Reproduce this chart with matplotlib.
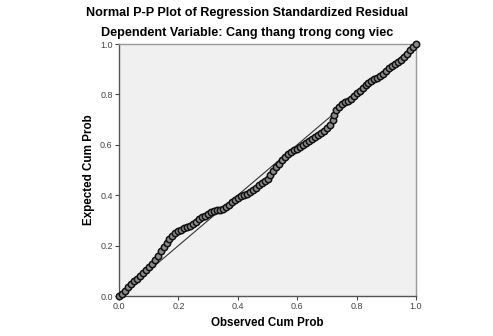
import numpy as np
import matplotlib
matplotlib.use("Agg")
import matplotlib.pyplot as plt

# ==========================================================
# Data (observed vs expected cum prob)
# ==========================================================
observed = [0.000, 0.010, 0.020, 0.030, 0.040, 0.050, 0.060, 0.070, 0.080, 0.090,
            0.100, 0.110, 0.120, 0.130, 0.140, 0.150, 0.160, 0.170, 0.180, 0.190,
            0.200, 0.210, 0.220, 0.230, 0.240, 0.250, 0.260, 0.270, 0.280, 0.290,
            0.300, 0.310, 0.320, 0.330, 0.340, 0.350, 0.360, 0.370, 0.380, 0.390,
            0.400, 0.410, 0.420, 0.430, 0.440, 0.450, 0.460, 0.470, 0.480, 0.490,
            0.500, 0.510, 0.520, 0.530, 0.540, 0.550, 0.560, 0.570, 0.580, 0.590,
            0.600, 0.610, 0.620, 0.630, 0.640, 0.650, 0.660, 0.670, 0.680, 0.690,
            0.700, 0.710, 0.720, 0.725, 0.730, 0.740, 0.750, 0.760, 0.770, 0.780,
            0.790, 0.800, 0.810, 0.820, 0.830, 0.840, 0.850, 0.860, 0.870, 0.880,
            0.890, 0.900, 0.910, 0.920, 0.930, 0.940, 0.950, 0.960, 0.970, 0.980,
            0.990, 1.000]
expected = [0.000, 0.008, 0.020, 0.035, 0.048, 0.058, 0.068, 0.078, 0.090, 0.102,
            0.115, 0.128, 0.143, 0.160, 0.178, 0.195, 0.212, 0.226, 0.240, 0.250,
            0.256, 0.262, 0.268, 0.273, 0.279, 0.285, 0.295, 0.305, 0.312, 0.318,
            0.325, 0.332, 0.337, 0.340, 0.343, 0.347, 0.354, 0.362, 0.372, 0.382,
            0.390, 0.395, 0.400, 0.405, 0.411, 0.420, 0.430, 0.440, 0.448, 0.456,
            0.465, 0.480, 0.495, 0.510, 0.525, 0.540, 0.552, 0.562, 0.570, 0.578,
            0.585, 0.592, 0.600, 0.608, 0.616, 0.624, 0.632, 0.638, 0.645, 0.655,
            0.665, 0.680, 0.700, 0.720, 0.738, 0.750, 0.760, 0.768, 0.774, 0.780,
            0.792, 0.805, 0.815, 0.826, 0.838, 0.846, 0.852, 0.860, 0.866, 0.873,
            0.880, 0.892, 0.903, 0.912, 0.920, 0.928, 0.938, 0.950, 0.962, 0.975,
            0.988, 1.000]
ticks = [0.0, 0.2, 0.4, 0.6, 0.8, 1.0]
tick_labels = ["0.0", "0.2", "0.4", "0.6", "0.8", "1.0"]

plt.rcParams['font.family'] = ['Liberation Sans', 'DejaVu Sans']

fig = plt.figure(figsize=(4.93, 3.36), dpi=100)
fig.patch.set_facecolor("white")
ax = fig.add_axes([119/493, 1 - 296/336, 297/493, 252/336])
ax.set_facecolor("#f0f0f0")

# diagonal reference line
ax.plot([0, 1], [0, 1], color="#333333", lw=0.8, zorder=2)
ax.plot(observed, expected, linestyle="none", marker="o", markersize=4.6,
        markerfacecolor="#8a8a8a", markeredgecolor="#111111",
        markeredgewidth=1.1, zorder=3, clip_on=False)

ax.set_xlim(0, 1)
ax.set_ylim(0, 1)
ax.set_xticks(ticks)
ax.set_xticklabels(tick_labels)
ax.set_yticks(ticks)
ax.set_yticklabels(tick_labels)
ax.tick_params(direction="out", length=3, width=0.8, color="#444444",
               labelsize=6.5, labelcolor="#444444", pad=1.5)

for side in ["left", "bottom"]:
    ax.spines[side].set_color("#555555")
    ax.spines[side].set_linewidth(1.0)
for side in ["top", "right"]:
    ax.spines[side].set_color("#999999")
    ax.spines[side].set_linewidth(1.0)

ax.set_xlabel("Observed Cum Prob", fontsize=8.4, fontweight="bold", labelpad=4)
ax.set_ylabel("Expected Cum Prob", fontsize=8.4, fontweight="bold", labelpad=4)

fig.text(247/493, 1 - 13/336, "Normal P-P Plot of Regression Standardized Residual",
         ha="center", va="center", fontsize=9.1, fontweight="bold")
fig.text(247/493, 1 - 33/336, "Dependent Variable: Cang thang trong cong viec",
         ha="center", va="center", fontsize=9.1, fontweight="bold")

fig.savefig("out.png", dpi=100)
